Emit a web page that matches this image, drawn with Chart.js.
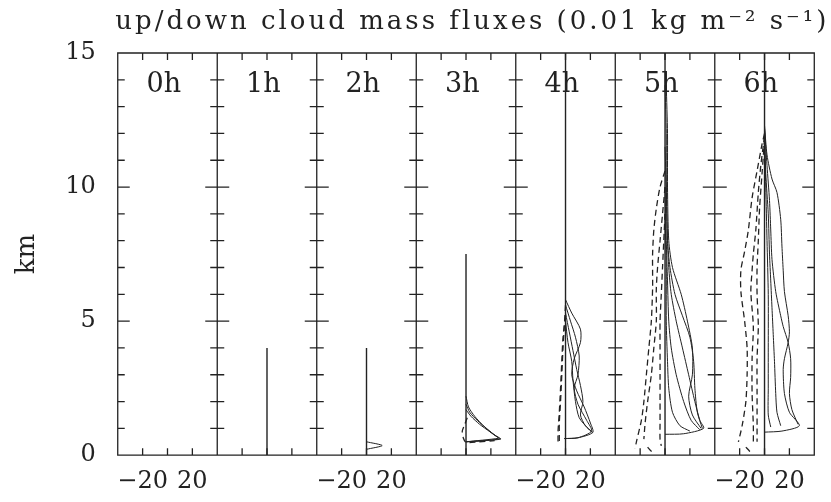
<!DOCTYPE html>
<html>
<head>
<meta charset="utf-8">
<script src="https://cdn.jsdelivr.net/npm/chart.js@4.4.1/dist/chart.umd.min.js"></script>
<style>
  html, body { margin: 0; padding: 0; background: #fff; }
</style>
</head>
<body>
<canvas id="fluxChart" width="831" height="502"></canvas>
<script>
const chartTitle = 'up/down cloud mass fluxes (0.01 kg m\u207B\u00B2 s\u207B\u00B9)';
const panelLabels = ['0h', '1h', '2h', '3h', '4h', '5h', '6h'];
const xTickValues = [-20, 20];
const xMarkValues = [-20, 0, 20];
const xTickPanels = [0, 2, 4, 6];
const yTickValues = [0, 5, 10, 15];
// top of the zero-flux line in each panel (km)
const zeroLineTop = [0, 4, 4, 7.5, 15, 15, 15];

// profiles: lists of [flux, height km]
const up2h = [
  [[0, 0.5], [12.6, 0.36], [0, 0.22]]
];
const up3h = [
  [[0, 2.2], [2, 1.8], [7, 1.45], [15, 1.05], [22, 0.78], [27, 0.62], [14, 0.54], [0, 0.5]],
  [[0, 1.9], [3, 1.6], [9, 1.3], [17, 0.98], [24, 0.72], [28, 0.6], [0, 0.5]],
  [[0, 1.7], [4, 1.45], [11, 1.15], [19, 0.88], [25, 0.68], [26, 0.63], [0, 0.5]]
];
const down3h = [
  [[1, 1.4], [-1, 1.15], [-3, 0.9], [-2, 0.62], [0, 0.48], [10, 0.5], [23, 0.54]]
];
const up4h = [
  [[0, 5.8], [5, 5.3], [12, 4.7], [12, 4.2], [7, 3.6], [5, 3.0], [9, 2.4], [15, 1.8], [20, 1.2], [22, 0.85], [10, 0.65], [-1, 0.62]],
  [[0, 5.6], [4, 5.0], [8, 4.4], [11, 3.7], [10, 3.0], [7, 2.5], [10, 1.9], [17, 1.3], [21, 0.9], [10, 0.65], [-1, 0.62]],
  [[0, 5.3], [3, 4.6], [6, 3.9], [9, 3.2], [12, 2.6], [14, 2.0], [12, 1.5], [16, 1.1], [22, 0.85]],
  [[0, 5.0], [2, 4.2], [5, 3.5], [6, 2.8], [8, 2.0], [11, 1.4], [18, 1.0], [21, 0.86]]
];
const down4h = [
  [[0, 5.6], [-1, 4.8], [-2, 4.0], [-3, 3.0], [-4, 2.0], [-5, 1.2], [-5, 0.7], [-5, 0.45]],
  [[0, 5.2], [-2, 4.4], [-3, 3.5], [-4, 2.5], [-5, 1.6], [-6, 0.9], [-6, 0.5]]
];
const up5h = [
  [[0, 13.8], [1, 12], [1, 10], [2, 8], [3, 7], [5, 6], [9, 5], [14, 4], [19, 3], [24, 2], [28, 1.3], [31, 1.0], [15, 0.8], [0, 0.78]],
  [[1, 13.8], [2, 12], [2, 10], [3, 8], [6, 7], [13, 6], [18, 5], [22, 4], [22, 3], [19, 2.2], [22, 1.5], [29, 1.0]],
  [[0, 11.5], [1, 10], [2, 8], [4, 7], [8, 6], [14, 5.2], [20, 4.4], [23, 3.5], [24, 2.5], [26, 1.6], [30, 1.0]],
  [[0, 10], [1, 8], [2, 6.5], [3, 5], [5, 4], [9, 3], [15, 2], [21, 1.3], [28, 0.95]],
  [[0, 9], [1, 7], [1, 5], [2, 3.5], [3, 2.5], [6, 1.6], [12, 1.1], [20, 0.9]]
];
const down5h = [
  [[0, 10.6], [-4, 10], [-7, 9.2], [-9, 8.4], [-10, 7.5], [-10, 6.9], [-10, 6.2], [-11, 5], [-13, 4], [-15, 3], [-17, 2], [-19, 1.3], [-23, 0.5], [-24, 0.25]],
  [[0, 10], [-2, 9], [-4, 8], [-6, 7], [-7, 6.2], [-7, 5], [-9, 4], [-11, 3], [-14, 2], [-16, 1.2], [-17, 0.6]],
  [[0, 9], [-1, 8], [-2, 7], [-3, 6], [-4, 5], [-4, 4], [-4, 3], [-4, 2], [-4, 1.2], [-4, 0.6], [-3, 0.35]],
  [[-14, 0.3], [-11, 0.15], [-8, 0.1]]
];
const up6h = [
  [[0, 12.3], [2, 11.2], [6, 10.3], [10, 9.8], [13, 8.8], [14, 7.8], [15, 6.9], [16, 6.1], [19, 5.2], [20, 4.6], [19, 4.2], [16, 3.6], [15, 3.2], [16, 2.3], [20, 1.6], [28, 1.1], [14, 0.9], [0, 0.86]],
  [[0, 12.2], [2, 10.8], [4, 9.5], [5, 8.4], [6, 7.3], [9, 6.1], [13, 5.2], [15, 4.8], [19, 4.2], [21, 3.6], [21, 2.9], [20, 2.3], [22, 1.7], [27, 1.15]],
  [[0, 12.1], [1, 10.5], [3, 9], [4, 7.5], [5, 6.5], [6, 5.5], [7, 4.5], [8, 3.5], [9, 2.3], [10, 1.6], [13, 1.1]],
  [[0, 12], [1, 10], [2, 8], [3, 6], [3, 4], [3, 2.5], [3, 1.5], [5, 1.05]]
];
const down6h = [
  [[0, 12], [-2, 11.6], [-6, 10.6], [-10, 9.6], [-13, 8.4], [-16, 7.6], [-19, 6.9], [-19, 6.1], [-16, 5], [-14, 4], [-14, 3], [-15, 2], [-18, 1.1], [-21, 0.5]],
  [[0, 11.9], [-3, 10.8], [-5, 9.8], [-7, 8.4], [-9, 7.5], [-10, 6.9], [-11, 6.1], [-9, 4.8], [-10, 3.6], [-10, 2.3], [-9, 1.1], [-9, 0.4]],
  [[0, 11.8], [-2, 10.5], [-4, 9.2], [-5, 8], [-6, 7], [-6, 6], [-5, 4.8], [-6, 3.6], [-6, 2.3], [-6, 1.1], [-6, 0.5]],
  [[-15, 0.3], [-12, 0.15], [-10, 0.08]]
];

const upProfiles = [[], [], up2h, up3h, up4h, up5h, up6h];
const downProfiles = [[], [], [], down3h, down4h, down5h, down6h];

const ink = '#222';
const serif = 'DejaVu Serif';

function lineSet(axis, pts, dashed, width) {
  return {
    data: pts.map(([x, y]) => ({x, y})),
    xAxisID: axis,
    yAxisID: 'y',
    showLine: true,
    borderColor: ink,
    borderWidth: width,
    borderDash: dashed ? [6, 4] : [],
    pointRadius: 0,
    tension: 0.25,
    fill: false
  };
}

const datasets = [];
panelLabels.forEach((p, i) => {
  const axis = 'x' + i;
  if (zeroLineTop[i] > 0) datasets.push(lineSet(axis, [[0, 0], [0, zeroLineTop[i]]], false, 1.4));
  upProfiles[i].forEach(c => datasets.push(lineSet(axis, c, false, 1)));
  downProfiles[i].forEach(c => datasets.push(lineSet(axis, c, true, 1.3)));
});

const scales = {
  y: {
    min: 0, max: 15, position: 'left',
    grid: { display: false, drawTicks: false },
    border: { display: false },
    afterBuildTicks: s => { s.ticks = yTickValues.map(v => ({value: v})); },
    ticks: { padding: 22, color: ink, font: { family: serif, size: 24 } },
    title: { display: true, text: 'km', color: ink, font: { family: serif, size: 26 }, padding: { top: 12, bottom: 0 } }
  }
};
panelLabels.forEach((p, i) => {
  scales['x' + i] = {
    type: 'linear', min: -40, max: 40, position: 'bottom',
    stack: 'panels', stackWeight: 1,
    grid: { display: false, drawTicks: false },
    border: { display: false },
    afterBuildTicks: s => { s.ticks = xTickValues.map(v => ({value: v})); },
    ticks: {
      display: xTickPanels.includes(i), autoSkip: false, maxRotation: 0, padding: 12,
      color: ink, font: { family: serif, size: 24 },
      callback: v => v < 0 ? '\u2212' + Math.abs(v) : String(v)
    }
  };
});

// panel frames, tick marks, panel names and the spaced-out title
const panelFrame = {
  id: 'panelFrame',
  beforeDatasetsDraw(chart) {
    const {ctx, scales: s} = chart;
    ctx.save();
    ctx.font = '27px "DejaVu Serif"';
    ctx.fillStyle = ink;
    ctx.textAlign = 'center';
    ctx.textBaseline = 'middle';
    panelLabels.forEach((p, i) => {
      ctx.fillText(p, s['x' + i].getPixelForValue(-3), s.y.getPixelForValue(13.8));
    });
    ctx.restore();
  },
  afterDatasetsDraw(chart) {
    const {ctx, chartArea: a, scales: s} = chart;
    ctx.save();
    ctx.strokeStyle = ink;
    ctx.lineWidth = 1.3;
    ctx.beginPath();
    ctx.rect(a.left, a.top, a.width, a.height);
    panelLabels.forEach((p, i) => {
      const sx = s['x' + i];
      const edge = sx.left;
      if (i > 0) { ctx.moveTo(edge, a.top); ctx.lineTo(edge, a.bottom); }
      xMarkValues.forEach(v => {
        const px = sx.getPixelForValue(v);
        ctx.moveTo(px, a.top); ctx.lineTo(px, a.top + 7);
        ctx.moveTo(px, a.bottom); ctx.lineTo(px, a.bottom - 7);
      });
      for (let km = 1; km < 15; km++) {
        const py = s.y.getPixelForValue(km);
        const len = km % 5 === 0 ? 12 : 7;
        ctx.moveTo(i === 0 ? edge : edge - len, py);
        ctx.lineTo(edge + len, py);
      }
    });
    for (let km = 1; km < 15; km++) {
      const py = s.y.getPixelForValue(km);
      const len = km % 5 === 0 ? 12 : 7;
      ctx.moveTo(a.right - len, py); ctx.lineTo(a.right, py);
    }
    ctx.stroke();

    ctx.font = '26px "DejaVu Serif"';
    ctx.letterSpacing = '3px';
    ctx.fillStyle = ink;
    ctx.textAlign = 'right';
    ctx.textBaseline = 'middle';
    ctx.fillText(chartTitle, a.right + 15, 22);
    ctx.restore();
  }
};

new Chart(document.getElementById('fluxChart').getContext('2d'), {
  type: 'scatter',
  data: { datasets },
  options: {
    responsive: false,
    animation: false,
    layout: { padding: { left: 0, right: 6, top: 53, bottom: -6 } },
    scales,
    plugins: {
      legend: { display: false },
      tooltip: { enabled: false },
      title: { display: false }
    }
  },
  plugins: [panelFrame]
});
</script>
</body>
</html>
